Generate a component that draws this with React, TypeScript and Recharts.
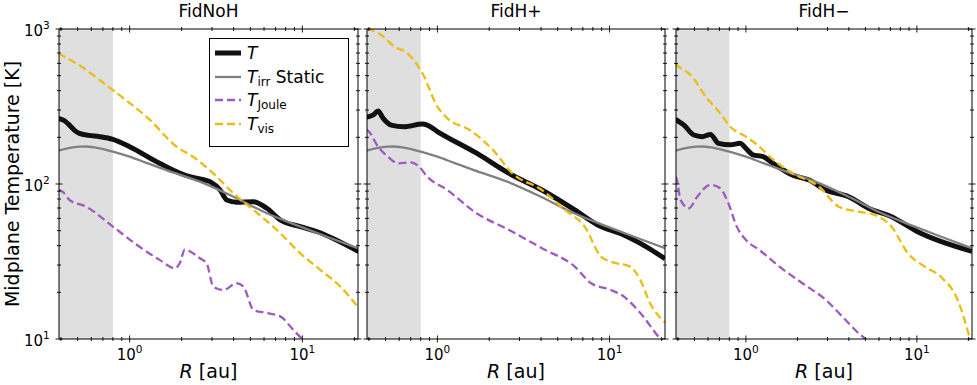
import React from 'react';
import { LineChart, Line, XAxis, YAxis, ReferenceArea } from 'recharts';

// ---------- Axes / labels ----------
const X_DOMAIN: [number, number] = [0.39, 21];
const Y_DOMAIN: [number, number] = [10, 1000];
const X_MAJOR = [1, 10];
const X_MINOR = [0.4, 0.5, 0.6, 0.7, 0.8, 0.9, 2, 3, 4, 5, 6, 7, 8, 9, 20];
const Y_MAJOR = [10, 100, 1000];
const Y_MINOR = [20, 30, 40, 50, 60, 70, 80, 90, 200, 300, 400, 500, 600, 700, 800, 900];
const PANEL_TITLES = ['FidNoH', 'FidH+', 'FidH\u2212'];
const SHADE_RANGE = [0.39, 0.8];
const Y_LABEL = 'Midplane Temperature [K]';

// ---------- Series: [R (au), T (K)] ----------
const T_IRR_STATIC = [
  [0.386, 164], [0.45, 171], [0.512, 174], [0.56, 174.5], [0.67, 170], [0.8, 162], [1.0, 150],
  [1.25, 137], [1.63, 123], [2.55, 103.5], [3.99, 82.8], [6.23, 64.7], [9.73, 53.1], [14, 45.5], [21.2, 38.4],
];

const NOH_T = [
  [0.386, 265], [0.42, 256], [0.448, 240], [0.48, 222], [0.512, 212], [0.58, 206], [0.67, 202], [0.8, 194],
  [1.0, 174], [1.49, 136], [2.23, 111.5], [2.55, 108], [2.92, 103.5], [3.34, 91.5], [3.65, 78.8],
  [4.17, 76.2], [5.21, 76.9], [6.23, 69.7], [7.45, 58.6], [9.73, 53.1], [12.2, 49.2], [21.2, 36.6],
];
const NOH_JOULE = [
  [0.386, 91.5], [0.41, 89], [0.448, 79], [0.56, 71.4], [0.8, 53.1], [1.14, 39.4], [1.49, 32.4],
  [1.83, 28.6], [1.95, 30.8], [2.09, 37.9], [2.33, 35.7], [2.55, 33.2], [2.79, 30.8], [3.05, 21.8],
  [3.49, 20.7], [4.17, 22.9], [4.56, 21.8], [5.21, 15.4], [6.23, 14.7], [7.45, 14.0], [8.9, 11.4],
  [9.95, 10], [11, 8.8],
];
const NOH_VIS = [
  [0.386, 697], [0.49, 601], [0.8, 403], [1.31, 259], [1.87, 174], [2.33, 150], [3.05, 117], [3.99, 87],
  [5.21, 68], [7.13, 50.5], [9.73, 35.7], [12.7, 27.9], [16.6, 21.8], [21.2, 15.8],
];

const HP_T = [
  [0.386, 270], [0.40, 272], [0.424, 279], [0.452, 296], [0.483, 266], [0.539, 240], [0.641, 234],
  [0.818, 244], [0.873, 240], [1.0, 218], [1.69, 158], [2.61, 117], [4.05, 91.5], [6.28, 68],
  [8.53, 54.4], [12.1, 46.9], [15.1, 41.4], [21, 33],
];
const HP_JOULE = [
  [0.386, 225], [0.40, 218], [0.452, 174], [0.516, 150], [0.589, 136], [0.70, 138], [0.782, 129.5],
  [0.873, 111.5], [1.14, 91.5], [1.69, 64.7], [2.61, 50.5], [4.05, 38.5], [6.28, 29.3], [7.82, 22.9],
  [10.2, 20.7], [12.1, 18.8], [15.1, 14.7], [19.6, 10.1], [21, 9.3],
];
const HP_VIS = [
  [0.39, 1010], [0.414, 985], [0.472, 915], [0.563, 769], [0.671, 697], [0.818, 518], [1.0, 316],
  [1.14, 266], [1.54, 223], [2.1, 166], [2.73, 117], [4.05, 91.5], [5.51, 68], [7.17, 53.1],
  [8.92, 34], [10.2, 31.5], [13.2, 29.3], [15.1, 24], [17.2, 17], [21, 12.8],
];

const HM_T = [
  [0.386, 262], [0.392, 259], [0.434, 240], [0.496, 207], [0.555, 202], [0.62, 209], [0.691, 183],
  [0.809, 179], [0.923, 183], [1.0, 170], [1.1, 154], [1.26, 150], [1.44, 136], [1.88, 114],
  [2.34, 106], [2.93, 91.5], [3.99, 82.8], [5.21, 69.7], [7.1, 61.5], [10.1, 49.2], [21, 36.8],
];
const HM_JOULE = [
  [0.386, 112], [0.392, 109], [0.415, 79], [0.464, 69.7], [0.519, 82.8], [0.62, 98.6], [0.708, 93.8],
  [0.79, 75], [0.884, 53.1], [1.0, 43.5], [1.2, 37.5], [1.57, 29.3], [2.14, 22.9], [2.93, 17.9],
  [3.65, 14], [4.56, 10.9], [4.99, 10], [5.5, 9],
];
const HM_VIS = [
  [0.386, 595], [0.392, 586], [0.475, 505], [0.593, 357], [0.708, 286], [0.809, 234], [1.0, 202],
  [1.2, 174], [1.38, 150], [1.88, 117], [2.68, 96], [3.49, 71.4], [4.56, 66.3], [5.69, 63],
  [7.1, 53.1], [8.87, 35.7], [11.1, 29.3], [13.8, 25.2], [17.3, 17.9], [20.3, 10.3], [21, 9],
];

// ---------- Layout ----------
const W = 977;
const H = 385;
const TOP = 29;
const BOTTOM = 339;
const PANELS = [
  { left: 59, right: 358 },
  { left: 367, right: 665 },
  { left: 676, right: 972 },
];
const FONT = 'DejaVu Sans, Verdana, sans-serif';

const COLORS = {
  T: '#111111',
  irr: '#808080',
  joule: '#9f5ac2',
  vis: '#ebbd14',
};

const toPts = (arr: number[][]) => arr.map(([r, t]) => ({ r, t }));

const PANEL_DATA = [
  { T: NOH_T, joule: NOH_JOULE, vis: NOH_VIS },
  { T: HP_T, joule: HP_JOULE, vis: HP_VIS },
  { T: HM_T, joule: HM_JOULE, vis: HM_VIS },
];

const exp10 = (v: number) => Math.round(Math.log10(v));
const isMajorX = (v: number) => X_MAJOR.some((m) => Math.abs(m - v) < 1e-9);
const isMajorY = (v: number) => Y_MAJOR.some((m) => Math.abs(m - v) < 1e-9);

function XTick(props: any) {
  const { x, y, payload, side, showLabel } = props;
  const v = payload.value;
  const major = isMajorX(v);
  const len = major ? 3.5 : 2;
  return (
    <g>
      <line x1={x} x2={x} y1={y - len} y2={y + len} stroke="#000" strokeWidth={0.9} />
      {major && showLabel && side === 'bottom' && (
        <text x={x} y={360} textAnchor="middle" fontSize={15} fontFamily={FONT} fill="#000">
          10<tspan dy={-7} fontSize={10.5}>{exp10(v)}</tspan>
        </text>
      )}
    </g>
  );
}

function YTick(props: any) {
  const { x, y, payload, showLabel } = props;
  const v = payload.value;
  const major = isMajorY(v);
  const len = major ? 3.5 : 2;
  return (
    <g>
      <line x1={x - len} x2={x + len} y1={y} y2={y} stroke="#000" strokeWidth={0.9} />
      {major && showLabel && (
        <text x={x - 16} y={y + 7} textAnchor="end" fontSize={15} fontFamily={FONT} fill="#000">
          10
        </text>
      )}
      {major && showLabel && (
        <text x={x - 16} y={y} textAnchor="start" fontSize={10.5} fontFamily={FONT} fill="#000">
          {exp10(v)}
        </text>
      )}
    </g>
  );
}

function Panel({ idx }: { idx: number }) {
  const p = PANELS[idx];
  const d = PANEL_DATA[idx];
  const first = idx === 0;
  return (
    <div style={{ position: 'absolute', left: 0, top: 0 }}>
      <LineChart
        width={W}
        height={H}
        style={{ overflow: 'visible' }}
        margin={{ top: TOP - 1, bottom: H - BOTTOM - 1, left: p.left - 1, right: W - p.right - 1 }}
      >
        <XAxis
          xAxisId="b"
          dataKey="r"
          type="number"
          scale="log"
          domain={X_DOMAIN}
          allowDataOverflow
          ticks={[...X_MINOR, ...X_MAJOR]}
          interval={0}
          height={1}
          tickSize={0}
          tickMargin={0}
          tickLine={false}
          axisLine={{ stroke: '#000', strokeWidth: 1 }}
          tick={(tp: any) => <XTick {...tp} side="bottom" showLabel />}
        />
        <XAxis
          xAxisId="t"
          orientation="top"
          dataKey="r"
          type="number"
          scale="log"
          domain={X_DOMAIN}
          allowDataOverflow
          ticks={[...X_MINOR, ...X_MAJOR]}
          interval={0}
          height={1}
          tickSize={0}
          tickMargin={0}
          tickLine={false}
          axisLine={{ stroke: '#000', strokeWidth: 1 }}
          tick={(tp: any) => <XTick {...tp} side="top" showLabel={false} />}
        />
        <YAxis
          yAxisId="l"
          dataKey="t"
          type="number"
          scale="log"
          domain={Y_DOMAIN}
          allowDataOverflow
          ticks={[...Y_MINOR, ...Y_MAJOR]}
          interval={0}
          width={1}
          tickSize={0}
          tickMargin={0}
          tickLine={false}
          axisLine={{ stroke: '#000', strokeWidth: 1 }}
          tick={(tp: any) => <YTick {...tp} showLabel={first} />}
        />
        <YAxis
          yAxisId="r"
          orientation="right"
          dataKey="t"
          type="number"
          scale="log"
          domain={Y_DOMAIN}
          allowDataOverflow
          ticks={[...Y_MINOR, ...Y_MAJOR]}
          interval={0}
          width={1}
          tickSize={0}
          tickMargin={0}
          tickLine={false}
          axisLine={{ stroke: '#000', strokeWidth: 1 }}
          tick={(tp: any) => <YTick {...tp} showLabel={false} />}
        />
        <ReferenceArea
          xAxisId="b"
          yAxisId="l"
          x1={SHADE_RANGE[0]}
          x2={SHADE_RANGE[1]}
          y1={Y_DOMAIN[0]}
          y2={Y_DOMAIN[1]}
          fill="#dfdfdf"
          fillOpacity={1}
          stroke="none"
          ifOverflow="hidden"
        />
        <Line
          xAxisId="b"
          yAxisId="l"
          data={toPts(d.T)}
          dataKey="t"
          type="monotone"
          stroke={COLORS.T}
          strokeWidth={5}
          dot={false}
          isAnimationActive={false}
        />
        <Line
          xAxisId="b"
          yAxisId="l"
          data={toPts(T_IRR_STATIC)}
          dataKey="t"
          type="monotone"
          stroke={COLORS.irr}
          strokeWidth={2.3}
          dot={false}
          isAnimationActive={false}
        />
        <Line
          xAxisId="b"
          yAxisId="l"
          data={toPts(d.joule)}
          dataKey="t"
          type="monotone"
          stroke={COLORS.joule}
          strokeWidth={2.3}
          strokeDasharray="8 4"
          dot={false}
          isAnimationActive={false}
        />
        <Line
          xAxisId="b"
          yAxisId="l"
          data={toPts(d.vis)}
          dataKey="t"
          type="monotone"
          stroke={COLORS.vis}
          strokeWidth={2.3}
          strokeDasharray="8 4"
          dot={false}
          isAnimationActive={false}
        />
      </LineChart>
    </div>
  );
}

function Overlay() {
  const fs = 17;
  return (
    <svg width={W} height={H} style={{ position: 'absolute', left: 0, top: 0, pointerEvents: 'none' }}>
      {PANELS.map((p, i) => (
        <text
          key={'t' + i}
          x={(p.left + p.right) / 2}
          y={17}
          textAnchor="middle"
          fontSize={17}
          fontFamily={FONT}
          fill="#000"
        >
          {PANEL_TITLES[i]}
        </text>
      ))}
      {PANELS.map((p, i) => (
        <text
          key={'x' + i}
          x={(p.left + p.right) / 2}
          y={378}
          textAnchor="middle"
          fontSize={19}
          fontFamily={FONT}
          fill="#000"
        >
          <tspan fontStyle="italic">R</tspan> [au]
        </text>
      ))}
      <text
        x={0}
        y={0}
        transform={`translate(19, ${(TOP + BOTTOM) / 2}) rotate(-90)`}
        textAnchor="middle"
        fontSize={19}
        fontFamily={FONT}
        fill="#000"
      >
        {Y_LABEL}
      </text>
      {/* legend */}
      <g>
        <rect x={209.5} y={38.5} width={139} height={108} fill="#fff" stroke="#000" strokeWidth={1} />
        <line x1={215} x2={241} y1={53} y2={53} stroke={COLORS.T} strokeWidth={5} />
        <text x={247} y={59} fontSize={fs} fontFamily={FONT} fill="#000">
          <tspan fontStyle="italic">T</tspan>
        </text>
        <line x1={215} x2={241} y1={77} y2={77} stroke={COLORS.irr} strokeWidth={2.3} />
        <text x={247} y={83} fontSize={fs} fontFamily={FONT} fill="#000">
          <tspan fontStyle="italic">T</tspan>
          <tspan fontSize={12} dy={3}>irr</tspan>
          <tspan dy={-3}> Static</tspan>
        </text>
        <line x1={215} x2={241} y1={100} y2={100} stroke={COLORS.joule} strokeWidth={2.3} strokeDasharray="8 4" />
        <text x={247} y={106} fontSize={fs} fontFamily={FONT} fill="#000">
          <tspan fontStyle="italic">T</tspan>
          <tspan fontSize={12} dy={3}>Joule</tspan>
        </text>
        <line x1={215} x2={241} y1={124} y2={124} stroke={COLORS.vis} strokeWidth={2.3} strokeDasharray="8 4" />
        <text x={247} y={130} fontSize={fs} fontFamily={FONT} fill="#000">
          <tspan fontStyle="italic">T</tspan>
          <tspan fontSize={12} dy={3}>vis</tspan>
        </text>
      </g>
    </svg>
  );
}

export default function App() {
  return (
    <div style={{ position: 'absolute', left: 0, top: 0, width: W, height: H, background: '#fff', fontFamily: FONT }}>
      {PANELS.map((_, i) => (
        <Panel key={i} idx={i} />
      ))}
      <Overlay />
    </div>
  );
}
